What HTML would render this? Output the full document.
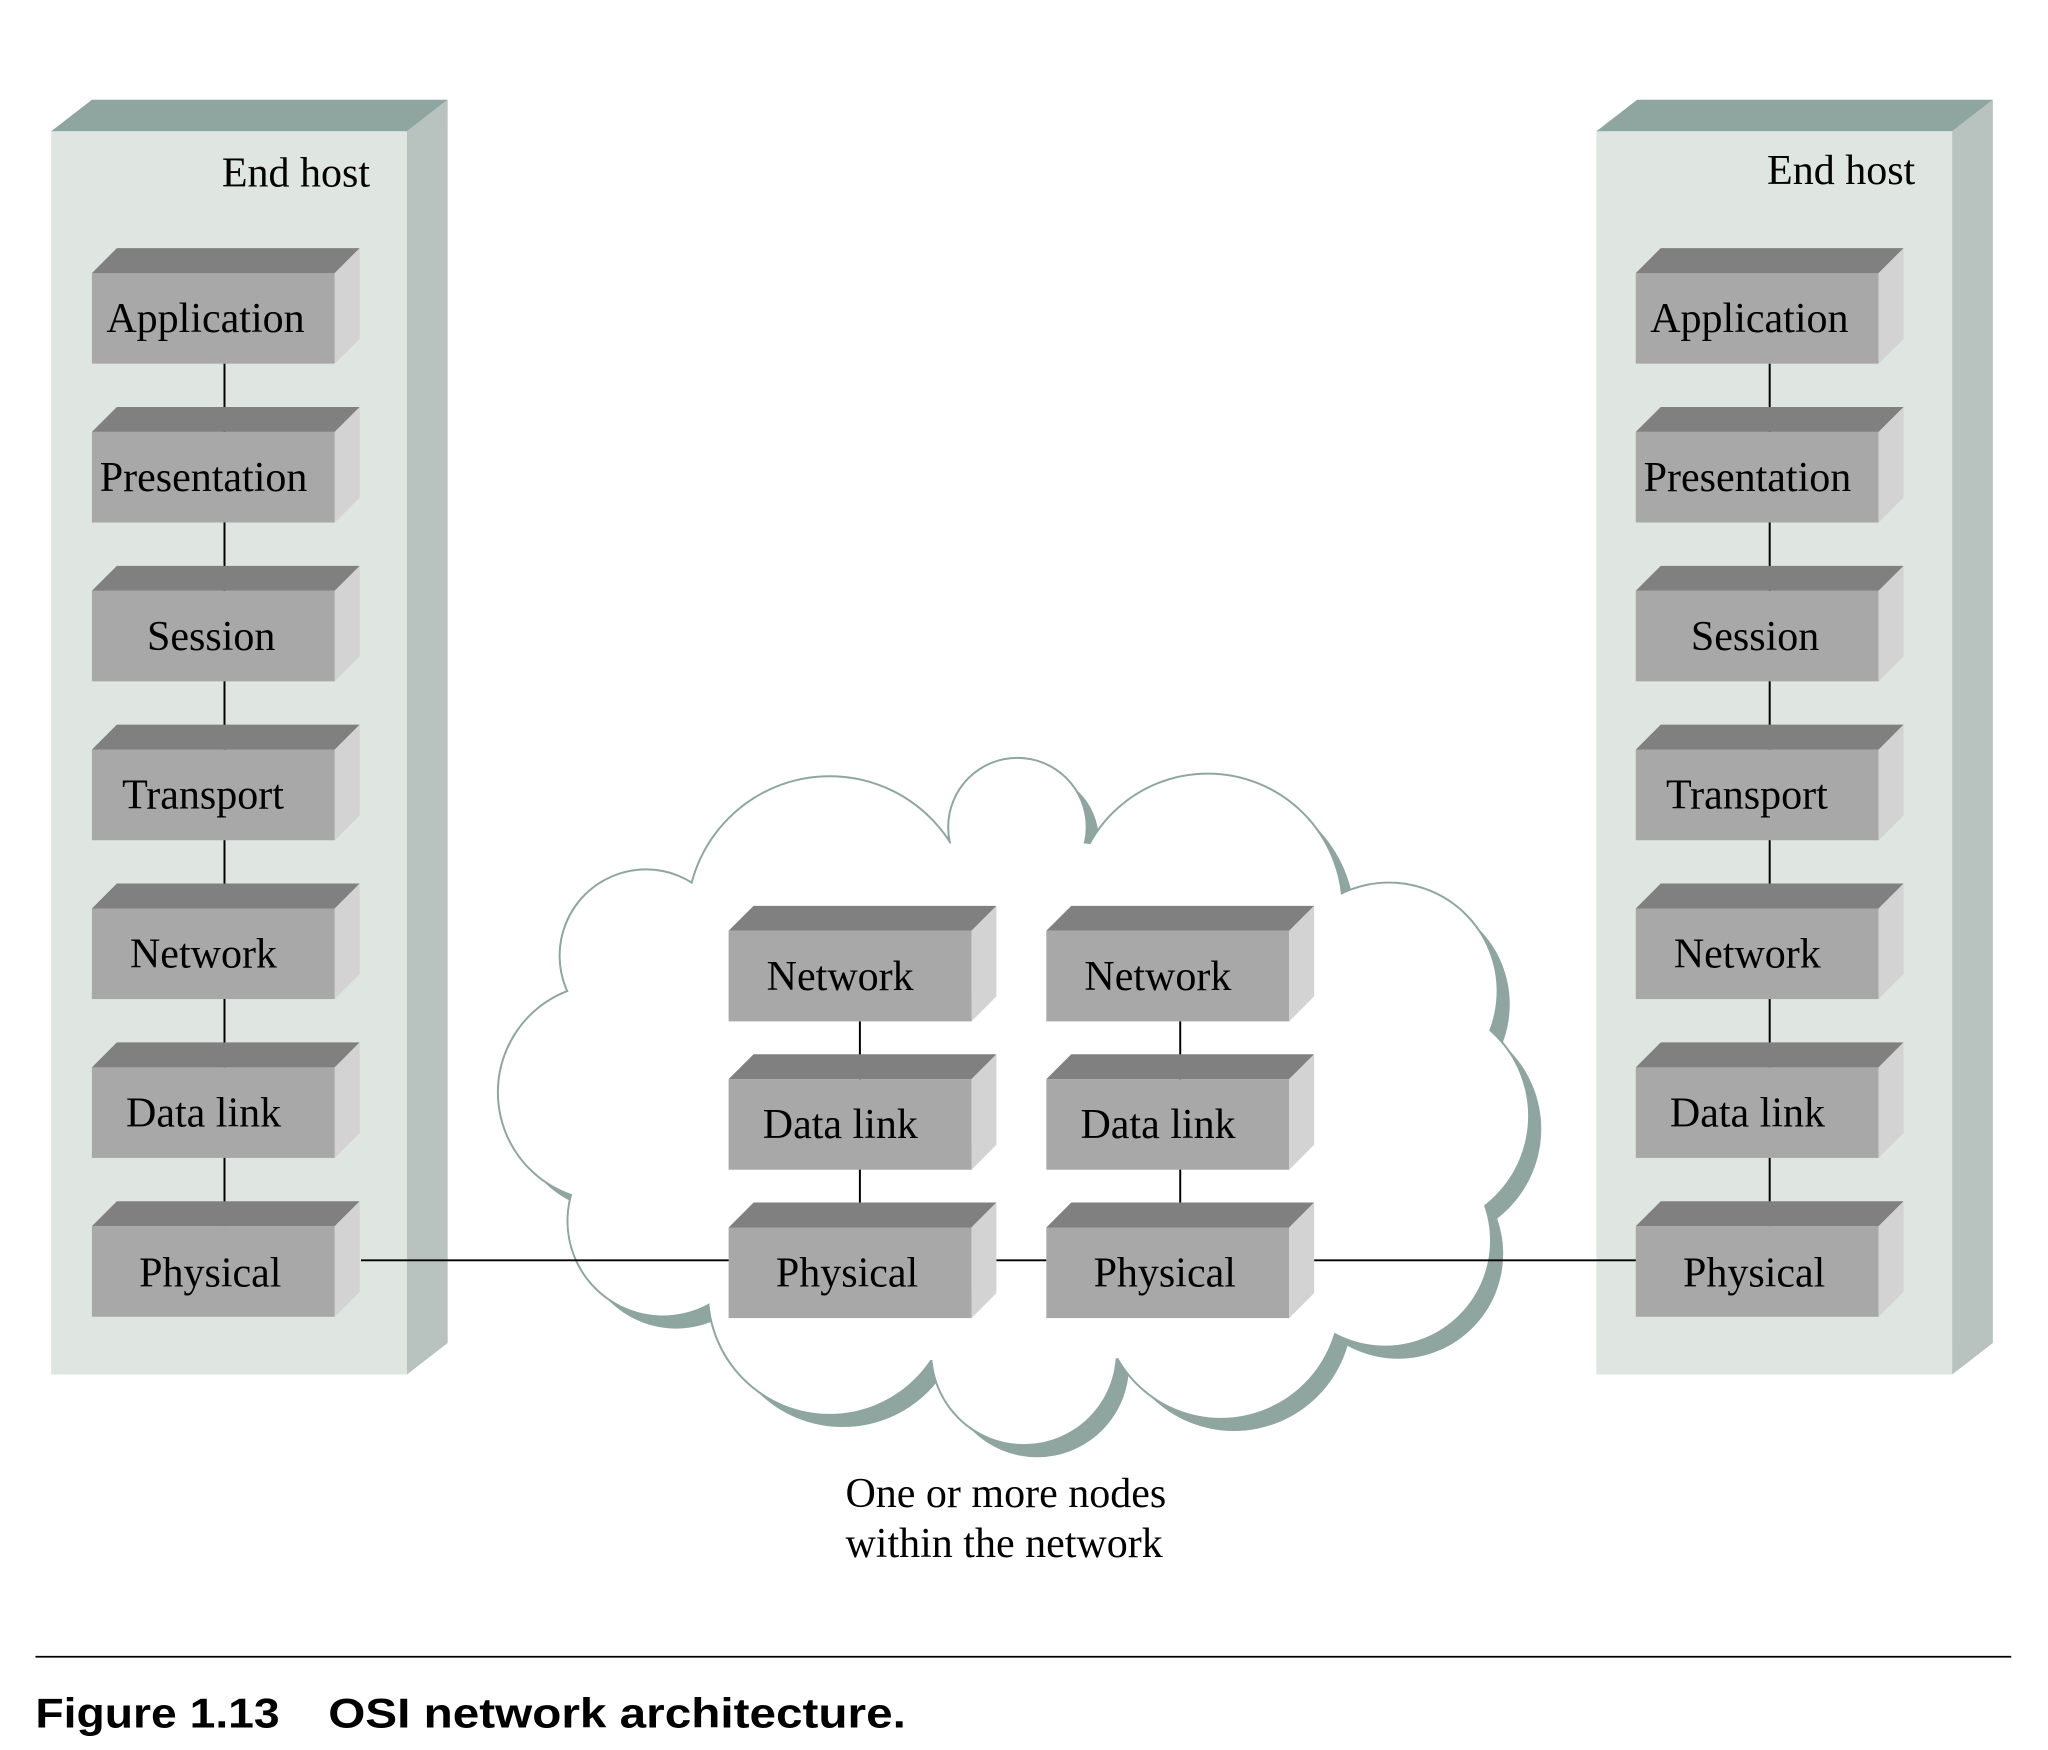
<!DOCTYPE html>
<html><head><style>html,body{margin:0;padding:0;background:#fff}svg{display:block}</style></head>
<body>
<svg xmlns="http://www.w3.org/2000/svg" width="2048" height="1750" viewBox="0 0 1560 1333" preserveAspectRatio="none">
<defs>
<g id="box">
  <rect x="0" y="0" width="185" height="69" fill="#a8a8a8"/>
  <polygon points="0,0 19,-19 204,-19 185,0" fill="#808080"/>
  <polygon points="185,0 204,-19 204,50 185,69" fill="#d3d3d3"/>
</g>
<g id="cloud">
  <circle cx="775" cy="630" r="52"/>
  <circle cx="632" cy="700" r="108"/>
  <circle cx="920" cy="692" r="102"/>
  <circle cx="1058" cy="755" r="82"/>
  <circle cx="1078" cy="850" r="86"/>
  <circle cx="1055" cy="945" r="80"/>
  <circle cx="930" cy="990" r="90"/>
  <circle cx="780" cy="1030" r="70"/>
  <circle cx="632" cy="985" r="92"/>
  <circle cx="505" cy="930" r="72"/>
  <circle cx="462" cy="832" r="82"/>
  <circle cx="492" cy="728" r="65"/>
  <ellipse cx="775" cy="840" rx="330" ry="200"/>
</g>
</defs>
<g font-family="Liberation Serif, serif" font-size="32" fill="#000">
<rect x="39" y="100" width="271" height="947" fill="#dfe5e1"/>
<polygon points="39,100 70,76 341,76 310,100" fill="#8fa59f"/>
<polygon points="310,100 341,76 341,1023 310,1047" fill="#b8c2be"/>
<text x="169" y="142">End host</text>
<rect x="1216" y="100" width="271" height="947" fill="#dfe5e1"/>
<polygon points="1216,100 1247,76 1518,76 1487,100" fill="#8fa59f"/>
<polygon points="1487,100 1518,76 1518,1023 1487,1047" fill="#b8c2be"/>
<text x="1346" y="140">End host</text>
<g fill="#8fa59f" transform="translate(10,10)"><use href="#cloud"/></g>
<g fill="#fff" stroke="#8fa59f" stroke-width="3"><use href="#cloud"/></g>
<g fill="#fff"><use href="#cloud"/></g>
<g stroke="#000" stroke-width="1.5">
<line x1="171" y1="277" x2="171" y2="934"/>
<line x1="1348" y1="277" x2="1348" y2="934"/>
<line x1="655" y1="778" x2="655" y2="935"/>
<line x1="899" y1="778" x2="899" y2="935"/>
<line x1="275" y1="960" x2="556" y2="960"/>
<line x1="759" y1="960" x2="797" y2="960"/>
<line x1="1001" y1="960" x2="1247" y2="960"/>
</g>
<use href="#box" x="70" y="208"/><use href="#box" x="70" y="329"/><use href="#box" x="70" y="450"/>
<use href="#box" x="70" y="571"/><use href="#box" x="70" y="692"/><use href="#box" x="70" y="813"/><use href="#box" x="70" y="934"/>
<text x="81" y="253">Application</text>
<text x="76" y="374">Presentation</text>
<text x="112" y="495">Session</text>
<text x="93" y="616">Transport</text>
<text x="99" y="737">Network</text>
<text x="96" y="858">Data link</text>
<text x="106" y="980">Physical</text>
<use href="#box" x="1246" y="208"/><use href="#box" x="1246" y="329"/><use href="#box" x="1246" y="450"/>
<use href="#box" x="1246" y="571"/><use href="#box" x="1246" y="692"/><use href="#box" x="1246" y="813"/><use href="#box" x="1246" y="934"/>
<text x="1257" y="253">Application</text>
<text x="1252" y="374">Presentation</text>
<text x="1288" y="495">Session</text>
<text x="1269" y="616">Transport</text>
<text x="1275" y="737">Network</text>
<text x="1272" y="858">Data link</text>
<text x="1282" y="980">Physical</text>
<use href="#box" x="555" y="709"/><use href="#box" x="555" y="822"/><use href="#box" x="555" y="935"/>
<use href="#box" x="797" y="709"/><use href="#box" x="797" y="822"/><use href="#box" x="797" y="935"/>
<text x="584" y="754">Network</text>
<text x="581" y="867">Data link</text>
<text x="591" y="980">Physical</text>
<text x="826" y="754">Network</text>
<text x="823" y="867">Data link</text>
<text x="833" y="980">Physical</text>
<text x="644" y="1148">One or more nodes</text>
<text x="644" y="1186">within the network</text>
</g>
<line x1="27" y1="1262" x2="1532" y2="1262" stroke="#000" stroke-width="1.3"/>
<g font-family="Liberation Sans, sans-serif" font-weight="bold" font-size="32">
<text x="27" y="1316" textLength="186" lengthAdjust="spacingAndGlyphs">Figure 1.13</text>
<text x="250" y="1316" textLength="440" lengthAdjust="spacingAndGlyphs">OSI network architecture.</text>
</g>
</svg>
</body></html>
